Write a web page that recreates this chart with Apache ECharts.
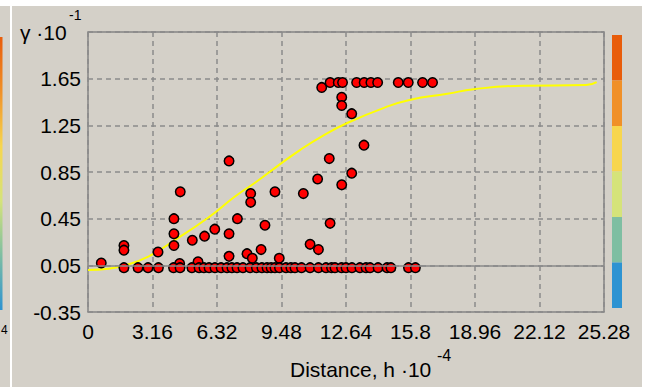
<!DOCTYPE html>
<html>
<head>
<meta charset="utf-8">
<script src="https://cdn.jsdelivr.net/npm/echarts@6/dist/echarts.min.js"></script>
<style>
  html, body { margin: 0; padding: 0; background: #fff; }
  #chart { width: 646px; height: 387px; }
</style>
</head>
<body>
<div id="chart"></div>
<script>
// scattered experimental points (off the baseline)
const pointX = [0.65, 1.76, 1.76, 3.43, 4.49, 4.21, 4.21, 4.21, 4.52, 5.11, 5.39, 5.71, 6.21,
  6.91, 6.91, 6.91, 7.32, 7.97, 7.97, 7.79, 8.05, 8.48, 8.67, 9.16, 9.37, 10.55, 10.88, 11.29,
  11.25, 11.82, 11.86, 12.43, 12.92, 13.52, 12.92, 12.43, 12.43, 11.45,
  11.86, 12.26, 12.47, 13.16, 13.53, 13.86, 14.19, 15.20, 15.69, 16.39, 16.88];
const pointY = [0.07, 0.22, 0.18, 0.164, 0.065, 0.45, 0.32, 0.22, 0.68, 0.265, 0.08, 0.30, 0.36,
  0.945, 0.32, 0.127, 0.45, 0.665, 0.59, 0.15, 0.11, 0.185, 0.393, 0.68, 0.11, 0.665, 0.23, 0.185,
  0.79, 0.965, 0.41, 0.74, 0.84, 1.08, 1.35, 1.49, 1.42, 1.575,
  1.617, 1.617, 1.617, 1.617, 1.617, 1.617, 1.617, 1.617, 1.617, 1.617, 1.617];

// points lying along the bottom row
const baselineX = [1.76, 2.45, 2.94, 3.45, 4.19, 4.51, 5.09, 5.44, 5.68, 5.93, 6.22, 6.52, 6.81,
  7.05, 7.30, 7.59, 7.94, 8.25, 8.52, 8.77, 8.97, 9.16, 9.38, 9.70, 9.94, 10.14, 10.46, 10.88,
  11.29, 11.66, 11.93, 12.10, 12.42, 12.64, 12.93, 13.32, 13.62, 13.82, 14.21, 14.65, 14.84,
  15.70, 16.04];
const baselineY = 0.03;

// fitted model curve
const curveX = [0, 1.0, 1.8, 2.9, 4.2, 5.9, 7.2, 8.2, 9.2, 10.4, 11.5, 12.7, 14.5, 15.8, 17.6,
  18.9, 21.3, 24.4, 24.92];
const curveY = [0.01, 0.02, 0.05, 0.12, 0.26, 0.46, 0.64, 0.76, 0.89, 1.04, 1.16, 1.27, 1.40,
  1.47, 1.52, 1.56, 1.59, 1.595, 1.62];

const bandColors = ['#2d93d2', '#7ebea2', '#d5e37a', '#f7d64e', '#f09028', '#e85c0a'];

const FONT = "'Liberation Sans', Arial, sans-serif";

const chart = echarts.init(document.getElementById('chart'), null, { renderer: 'svg' });

const points = pointX.map((x, i) => [x, pointY[i]])
  .concat(baselineX.map((x) => [x, baselineY]));
const curve = curveX.map((x, i) => [x, curveY[i]]);

chart.setOption({
  backgroundColor: '#d4d0c8',
  animation: false,
  grid: {
    left: 88, right: 42, top: 32, bottom: 75,
    show: true, borderColor: '#848484', borderWidth: 1.5, backgroundColor: 'transparent'
  },
  xAxis: {
    type: 'value', min: 0, max: 25.28, interval: 3.16,
    axisLine: { show: false }, axisTick: { show: false },
    axisLabel: {
      color: '#000', fontSize: 21, fontFamily: FONT, margin: 9,
      showMaxLabel: true, formatter: (v) => String(parseFloat(v.toFixed(2)))
    },
    splitLine: { lineStyle: { type: [5, 4], color: '#8a8a8a', width: 1.5 } }
  },
  yAxis: {
    type: 'value', min: -0.35, max: 2.05, interval: 0.4,
    axisLine: { show: false }, axisTick: { show: false },
    axisLabel: {
      color: '#000', fontSize: 21, fontFamily: FONT, margin: 7,
      formatter: (v) => (v > 2 ? '' : v.toFixed(2))
    },
    splitLine: { lineStyle: { type: [5, 4], color: '#8a8a8a', width: 1.5 } }
  },
  visualMap: {
    type: 'piecewise', seriesIndex: 2, orient: 'vertical',
    left: 612, top: 35, padding: 0,
    itemWidth: 10, itemHeight: 45.5, itemGap: 0, itemSymbol: 'rect',
    showLabel: false, selectedMode: false, hoverLink: false,
    pieces: bandColors.map((c, i) => ({ min: i, max: i + 1, color: c }))
  },
  series: [
    {
      type: 'line', data: curve, smooth: true, showSymbol: false, silent: true,
      lineStyle: { color: '#ffff00', width: 2 }, z: 2
    },
    {
      type: 'scatter', data: points, symbolSize: 9.5, z: 3,
      itemStyle: { color: '#ff0000', borderColor: '#000', borderWidth: 1.5, opacity: 1 },
      markLine: {
        silent: true, symbol: 'none', label: { show: false },
        lineStyle: { type: 'solid', color: '#8a8a8a', width: 1.5 },
        data: [{ yAxis: 0.05 }]
      }
    },
    { type: 'scatter', data: [] }
  ],
  graphic: [
    { type: 'rect', shape: { x: 0, y: 0, width: 646, height: 6 }, style: { fill: '#fff' } },
    { type: 'rect', shape: { x: 642, y: 0, width: 4, height: 387 }, style: { fill: '#fff' } },
    { type: 'rect', shape: { x: 10, y: 6, width: 2, height: 381 }, style: { fill: '#fff' } },
    {
      type: 'rect', shape: { x: 0, y: 37, width: 2.5, height: 273 },
      style: {
        fill: new echarts.graphic.LinearGradient(0, 1, 0, 0,
          bandColors.map((c, i) => ({ offset: i / (bandColors.length - 1), color: c })))
      }
    },
    { type: 'text', style: { x: 1, y: 330, text: '4', font: '12px ' + FONT, fill: '#000', textAlign: 'left', textVerticalAlign: 'middle' } },
    { type: 'text', style: { x: 20, y: 32.5, text: 'γ ·10', font: '21px ' + FONT, fill: '#000', textVerticalAlign: 'middle' } },
    { type: 'text', style: { x: 69, y: 14.5, text: '-1', font: '14px ' + FONT, fill: '#000', textVerticalAlign: 'middle' } },
    { type: 'text', style: { x: 290, y: 369.5, text: 'Distance, h ·10', font: '21px ' + FONT, fill: '#000', textVerticalAlign: 'middle' } },
    { type: 'text', style: { x: 437, y: 355, text: '-4', font: '16px ' + FONT, fill: '#000', textVerticalAlign: 'middle' } }
  ]
});
</script>
</body>
</html>
